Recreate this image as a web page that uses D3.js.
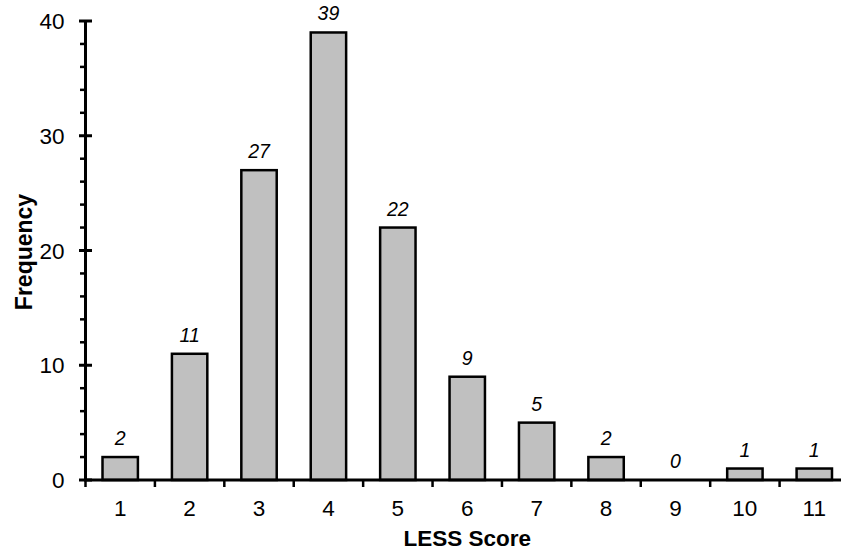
<!DOCTYPE html>
<html><head><meta charset="utf-8">
<script src="https://cdn.jsdelivr.net/npm/d3@7"></script>
<style>body{margin:0;background:#fff}svg{display:block}text{font-family:"Liberation Sans",Arial,sans-serif;fill:#000}</style>
</head><body><svg id="c" width="841" height="552"></svg>
<script>
const categories = ["1","2","3","4","5","6","7","8","9","10","11"];
const frequency = [2,11,27,39,22,9,5,2,0,1,1];
const yMajorTicks = [0,10,20,30,40];
const yMinorTicks = [2,4,6,8,12,14,16,18,22,24,26,28,32,34,36,38];

const svg = d3.select("#c");
const x = d3.scaleBand().domain(categories).range([85.5, 849]).paddingInner(0.49).paddingOuter(0.245);
const y = d3.scaleLinear().domain([0, 40]).range([480, 21]);
const step = x.step();

// bars
svg.append("g").selectAll("rect").data(frequency).join("rect")
  .attr("x", (d,i) => x(categories[i]))
  .attr("y", d => y(d))
  .attr("width", x.bandwidth())
  .attr("height", d => y(0) - y(d))
  .attr("fill", "#c0c0c0").attr("stroke", "#000").attr("stroke-width", 2.5);

// value labels
svg.append("g").selectAll("text").data(frequency).join("text")
  .attr("x", (d,i) => x(categories[i]) + x.bandwidth()/2)
  .attr("y", d => y(d) - 12)
  .attr("text-anchor", "middle").attr("font-style", "italic").attr("font-size", 19.5)
  .text(d => d);

// y axis
const ya = svg.append("g").attr("transform", "translate(85.5,0)");
ya.append("line").attr("y1", y(40)).attr("y2", y(0)).attr("stroke", "#000").attr("stroke-width", 3);
ya.selectAll(".maj").data(yMajorTicks).join("line").attr("class","maj")
  .attr("x1", -6.5).attr("x2", 6.5).attr("y1", d => y(d)).attr("y2", d => y(d))
  .attr("stroke", "#000").attr("stroke-width", 3);
ya.selectAll(".min").data(yMinorTicks).join("line").attr("class","min")
  .attr("x1", -5.5).attr("x2", 0).attr("y1", d => y(d)).attr("y2", d => y(d))
  .attr("stroke", "#000").attr("stroke-width", 2.5);
ya.selectAll("text").data(yMajorTicks).join("text")
  .attr("x", -21).attr("y", d => y(d)).attr("dy", "0.36em")
  .attr("text-anchor", "end").attr("font-size", 22.5).text(d => d);

// x axis
const xa = svg.append("g");
xa.append("line").attr("x1", 84).attr("x2", 849).attr("y1", y(0)).attr("y2", y(0)).attr("stroke", "#000").attr("stroke-width", 3);
xa.selectAll(".tk").data(d3.range(categories.length + 1)).join("line").attr("class","tk")
  .attr("x1", i => 85.5 + i*step).attr("x2", i => 85.5 + i*step)
  .attr("y1", y(0)).attr("y2", y(0) + 7).attr("stroke", "#000").attr("stroke-width", 2.5);
xa.selectAll("text").data(categories).join("text")
  .attr("x", d => x(d) + x.bandwidth()/2).attr("y", 515.5)
  .attr("text-anchor", "middle").attr("font-size", 22.5).text(d => d);

// titles
svg.append("text").attr("x", (85.5+849)/2).attr("y", 545.5).attr("text-anchor", "middle")
  .attr("font-weight", "bold").attr("font-size", 22.5).text("LESS Score");
svg.append("text").attr("transform", "translate(31.5,252) rotate(-90)").attr("text-anchor", "middle")
  .attr("font-weight", "bold").attr("font-size", 23).text("Frequency");
</script></body></html>
